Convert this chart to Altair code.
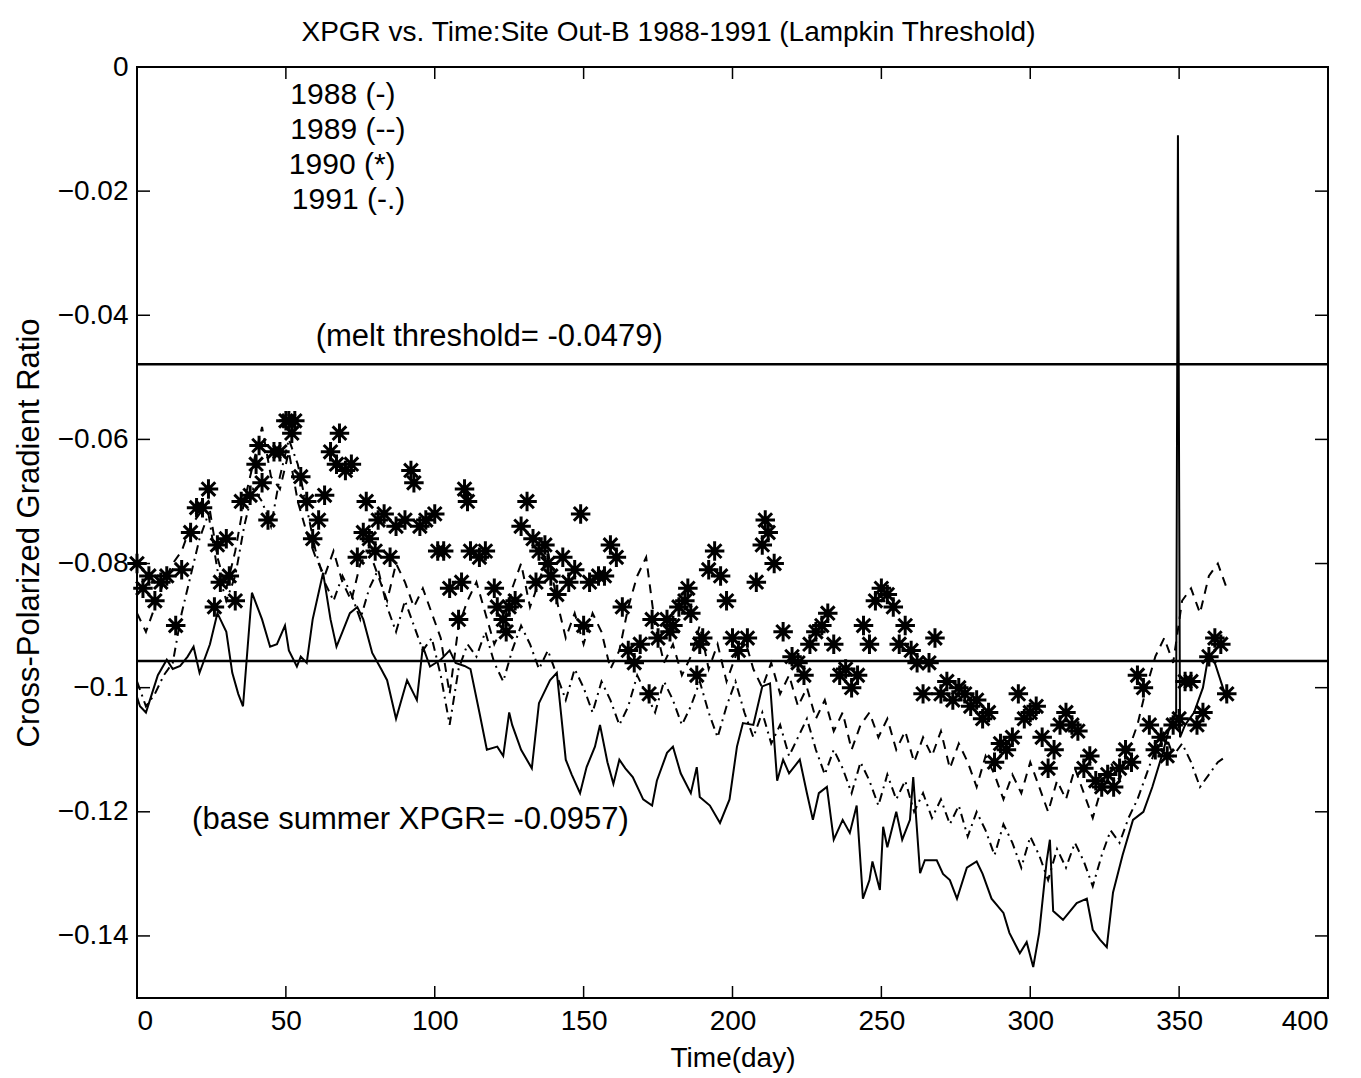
import altair as alt
import pandas as pd

# ---------------- data ----------------
D88 = [0, 1, 3, 5, 7, 10, 12, 14.5, 17, 19, 21, 24.5, 27, 30, 32, 34, 35.6, 38.6, 42, 44.7,
       47, 49.7, 51, 53.7, 55, 57, 59, 62.5, 65, 67, 69, 71.5, 74, 76, 79, 82, 84, 87, 90.7, 94,
       96, 98.4, 102, 105, 107, 110, 112, 115, 117.5, 121, 123, 125, 126, 129, 132.6, 135, 138.7, 141, 144, 146,
       148.8, 151, 153.8, 155.5, 158, 160, 162, 164, 166.5, 170, 173, 174.6, 178, 180, 182.6, 186, 188, 189, 192.4, 195.8,
       199, 201.5, 203.5, 207, 210, 212.6, 215, 217, 219, 222.6, 225, 227, 229, 231.7, 234, 237, 239.4, 241.7, 243.8, 246,
       247, 249.5, 250.6, 252, 255, 257, 259.6, 260.7, 263, 264.6, 268.6, 270.7, 273, 275.4, 278.7, 282, 284, 287, 291, 293,
       296.5, 298.8, 301, 303, 305.5, 306.6, 307.7, 311, 313.4, 315.6, 319, 321, 323.4, 325.7, 327.8, 331, 334.5, 338, 341, 344.5,
       347, 349, 349.6, 350.3, 352, 355, 358, 360, 362, 364.7, 366]
V88 = [-0.1015, -0.103, -0.104, -0.101, -0.098, -0.0955, -0.097, -0.0965, -0.095, -0.0934, -0.0976, -0.093, -0.088, -0.091, -0.0976, -0.101, -0.103, -0.0847, -0.089, -0.0934,
       -0.093, -0.090, -0.094, -0.0966, -0.095, -0.096, -0.089, -0.0815, -0.089, -0.0934, -0.091, -0.088, -0.087, -0.089, -0.0944, -0.097, -0.0988, -0.105, -0.0988, -0.102,
       -0.0934, -0.0966, -0.0955, -0.094, -0.096, -0.0965, -0.097, -0.104, -0.110, -0.1095, -0.111, -0.104, -0.106, -0.110, -0.113, -0.1025, -0.0988, -0.0976, -0.1116, -0.114,
       -0.117, -0.1128, -0.1095, -0.106, -0.112, -0.1155, -0.1116, -0.113, -0.1144, -0.118, -0.119, -0.115, -0.1105, -0.1095, -0.1138, -0.117, -0.1128, -0.1176, -0.119, -0.1218,
       -0.118, -0.1095, -0.1057, -0.106, -0.0998, -0.0993, -0.115, -0.1116, -0.1138, -0.1116, -0.117, -0.1213, -0.117, -0.116, -0.1245, -0.1213, -0.1234, -0.119, -0.134, -0.131,
       -0.128, -0.1326, -0.1224, -0.1257, -0.120, -0.1245, -0.1213, -0.1144, -0.1299, -0.1278, -0.1278, -0.130, -0.131, -0.134, -0.129, -0.128, -0.130, -0.134, -0.1363, -0.1395,
       -0.1428, -0.141, -0.145, -0.1395, -0.128, -0.1245, -0.136, -0.1374, -0.136, -0.1347, -0.134, -0.139, -0.1406, -0.1418, -0.133, -0.127, -0.1213, -0.120, -0.116, -0.1105,
       -0.106, -0.104, -0.011, -0.108, -0.106, -0.104, -0.100, -0.0944, -0.096, -0.100, -0.102]

D89 = list(range(0, 367, 3))
V89 = [-0.088, -0.091, -0.087, -0.083, -0.080, -0.078, -0.074, -0.072, -0.070, -0.079, -0.084, -0.078, -0.070, -0.064, -0.058, -0.066, -0.068, -0.062, -0.070, -0.075,
       -0.079, -0.082, -0.078, -0.083, -0.086, -0.080, -0.078, -0.082, -0.086, -0.080, -0.083, -0.087, -0.084, -0.088, -0.092, -0.101, -0.090, -0.086, -0.083, -0.088,
       -0.093, -0.090, -0.084, -0.080, -0.087, -0.083, -0.078, -0.086, -0.092, -0.088, -0.093, -0.088, -0.091, -0.097, -0.094, -0.087, -0.082, -0.079, -0.090, -0.096,
       -0.093, -0.098, -0.095, -0.090, -0.097, -0.093, -0.099, -0.095, -0.092, -0.097, -0.100, -0.096, -0.101, -0.098, -0.103, -0.100, -0.105, -0.102, -0.107, -0.104,
       -0.110, -0.106, -0.104, -0.108, -0.105, -0.110, -0.107, -0.112, -0.108, -0.111, -0.107, -0.113, -0.109, -0.112, -0.116, -0.111, -0.114, -0.118, -0.114, -0.117,
       -0.112, -0.116, -0.120, -0.115, -0.118, -0.113, -0.117, -0.121, -0.116, -0.112, -0.115, -0.110, -0.106, -0.100, -0.095, -0.092, -0.096, -0.086, -0.084, -0.088,
       -0.082, -0.080, -0.084]

D91 = list(range(0, 367, 3))
V91 = [-0.099, -0.103, -0.101, -0.098, -0.096, -0.088, -0.082, -0.076, -0.072, -0.081, -0.086, -0.082, -0.074, -0.068, -0.070, -0.074, -0.066, -0.060, -0.064, -0.071,
       -0.078, -0.083, -0.086, -0.082, -0.085, -0.089, -0.084, -0.081, -0.087, -0.091, -0.086, -0.090, -0.094, -0.092, -0.098, -0.106, -0.097, -0.093, -0.095, -0.091,
       -0.096, -0.099, -0.094, -0.090, -0.093, -0.097, -0.094, -0.098, -0.102, -0.097, -0.100, -0.104, -0.099, -0.102, -0.106, -0.103, -0.098, -0.101, -0.104, -0.099,
       -0.102, -0.106, -0.103, -0.099, -0.104, -0.108, -0.103, -0.099, -0.104, -0.108, -0.104, -0.109, -0.106, -0.111, -0.108, -0.105, -0.110, -0.114, -0.110, -0.113,
       -0.117, -0.112, -0.115, -0.119, -0.114, -0.118, -0.115, -0.120, -0.117, -0.121, -0.118, -0.122, -0.119, -0.124, -0.120, -0.123, -0.127, -0.122, -0.125, -0.129,
       -0.124, -0.127, -0.131, -0.126, -0.129, -0.125, -0.128, -0.132, -0.127, -0.123, -0.125, -0.121, -0.118, -0.114, -0.110, -0.107, -0.111, -0.109, -0.112, -0.116,
       -0.114, -0.112, -0.111]

D90 = [0, 2, 4, 6, 8, 10, 13, 15, 18, 20, 22, 24, 26, 27, 28, 30, 31, 33, 35, 38,
       40, 41, 42, 44, 46, 48, 50, 51, 52, 53, 55, 57, 59, 61, 63, 65, 67, 68, 70, 72,
       74, 76, 77, 78, 80, 81, 83, 85, 87, 90, 92, 93, 95, 97, 100, 101, 103, 105, 108, 109,
       110, 111, 112, 115, 117, 120, 121, 123, 124, 125, 127, 129, 131, 133, 134, 135, 137, 138, 139, 141,
       143, 145, 147, 149, 150, 152, 155, 157, 159, 161, 163, 165, 167, 169, 172, 173, 175, 178, 179, 180,
       182, 184, 185, 186, 188, 189, 190, 192, 194, 196, 198, 200, 202, 205, 208, 210, 211, 212, 214, 217,
       220, 222, 224, 226, 228, 230, 232, 234, 236, 238, 240, 242, 244, 246, 248, 250, 252, 254, 256, 258,
       260, 262, 264, 266, 268, 270, 272, 274, 276, 278, 280, 282, 284, 286, 288, 290, 292, 294, 296, 298,
       300, 302, 304, 306, 308, 310, 312, 314, 316, 318, 320, 322, 324, 326, 328, 330, 332, 334, 336, 338,
       340, 342, 344, 346, 348, 350, 352, 354, 356, 358, 360, 362, 364, 366]
V90 = [-0.080, -0.084, -0.082, -0.086, -0.083, -0.082, -0.090, -0.081, -0.075, -0.071, -0.071, -0.068, -0.087, -0.077, -0.083, -0.076, -0.082, -0.086, -0.070, -0.069,
       -0.064, -0.061, -0.067, -0.073, -0.062, -0.062, -0.057, -0.057, -0.059, -0.057, -0.066, -0.070, -0.076, -0.073, -0.069, -0.062, -0.064, -0.059, -0.065, -0.064,
       -0.079, -0.075, -0.070, -0.076, -0.078, -0.073, -0.072, -0.079, -0.074, -0.073, -0.065, -0.067, -0.074, -0.073, -0.072, -0.078, -0.078, -0.084, -0.089, -0.083,
       -0.068, -0.070, -0.078, -0.079, -0.078, -0.084, -0.087, -0.089, -0.091, -0.087, -0.086, -0.074, -0.070, -0.076, -0.083, -0.078, -0.077, -0.080, -0.082, -0.085,
       -0.079, -0.083, -0.081, -0.072, -0.090, -0.083, -0.082, -0.082, -0.077, -0.079, -0.087, -0.094, -0.096, -0.093, -0.101, -0.089, -0.092, -0.089, -0.091, -0.090,
       -0.087, -0.086, -0.084, -0.088, -0.098, -0.093, -0.092, -0.081, -0.078, -0.082, -0.086, -0.092, -0.094, -0.092, -0.083, -0.077, -0.073, -0.075, -0.080, -0.091,
       -0.095, -0.096, -0.098, -0.093, -0.091, -0.090, -0.088, -0.093, -0.098, -0.097, -0.100, -0.098, -0.090, -0.093, -0.086, -0.084, -0.085, -0.087, -0.093, -0.090,
       -0.094, -0.096, -0.101, -0.096, -0.092, -0.101, -0.099, -0.102, -0.100, -0.101, -0.103, -0.102, -0.105, -0.104, -0.112, -0.109, -0.110, -0.108, -0.101, -0.105,
       -0.104, -0.103, -0.108, -0.113, -0.110, -0.106, -0.104, -0.106, -0.107, -0.113, -0.111, -0.115, -0.116, -0.114, -0.116, -0.113, -0.110, -0.112, -0.098, -0.100,
       -0.106, -0.110, -0.108, -0.111, -0.106, -0.105, -0.099, -0.099, -0.106, -0.104, -0.095, -0.092, -0.093, -0.101]

MELT = -0.0479
BASE = -0.0957

XTICKS = [0, 50, 100, 150, 200, 250, 300, 350, 400]
YTICKS = [0, -0.02, -0.04, -0.06, -0.08, -0.1, -0.12, -0.14]

LEGEND_TEXT = ["1988 (-)", "1989 (--)", "1990 (*)", "1991 (-.)"]
LEGEND_DAY = [51.5, 51.5, 51, 52]
LEGEND_VAL = [-0.0045, -0.0102, -0.0158, -0.0214]

NOTE_TEXT = ["(melt threshold= -0.0479)", "(base summer XPGR= -0.0957)"]
NOTE_DAY = [60.0, 18.5]
NOTE_VAL = [-0.0435, -0.1213]

# ---------------- chart ----------------
W, H = 1191, 931
FONT = "Liberation Sans"

xs = alt.Scale(domain=[0, 400], nice=False, zero=False)
ys = alt.Scale(domain=[-0.15, 0], nice=False, zero=False)
xaxis = alt.Axis(values=XTICKS, title="Time(day)", labelPadding=9, titlePadding=9)
yaxis = alt.Axis(values=YTICKS, title="Cross-Polarized Gradient Ratio", format="~g",
                 labelPadding=9, titlePadding=12, titleFontSize=31)
X = alt.X("day:Q", scale=xs, axis=xaxis)
Y = alt.Y("value:Q", scale=ys, axis=yaxis)

df88 = pd.DataFrame({"day": D88, "value": V88})
df89 = pd.DataFrame({"day": D89, "value": V89})
df91 = pd.DataFrame({"day": D91, "value": V91})
df90 = pd.DataFrame({"day": D90, "value": V90})

line88 = alt.Chart(df88).mark_line(color="black", strokeWidth=2).encode(x=X, y=Y)
line89 = alt.Chart(df89).mark_line(color="black", strokeWidth=2, strokeDash=[9, 7]).encode(x=X, y=Y)
line91 = alt.Chart(df91).mark_line(color="black", strokeWidth=2, strokeDash=[9, 5, 2, 5]).encode(x=X, y=Y)

ASTER = "M-1,0L1,0M0,-1L0,1M-0.7,-0.7L0.7,0.7M-0.7,0.7L0.7,-0.7"
pts90 = alt.Chart(df90).mark_point(shape=ASTER, filled=False, color="black", strokeWidth=3,
                                   size=380, opacity=1).encode(x=X, y=Y)

hlines = alt.Chart(pd.DataFrame({"value": [MELT, BASE]})).mark_rule(
    color="black", strokeWidth=2.5).encode(y=Y)

tx = pd.DataFrame({"day": XTICKS})
ty = pd.DataFrame({"value": YTICKS})
tick_b = alt.Chart(tx).mark_rule(color="black", strokeWidth=1.5).encode(x=X, y=alt.value(H), y2=alt.value(H - 12))
tick_t = alt.Chart(tx).mark_rule(color="black", strokeWidth=1.5).encode(x=X, y=alt.value(0), y2=alt.value(12))
tick_l = alt.Chart(ty).mark_rule(color="black", strokeWidth=1.5).encode(y=Y, x=alt.value(0), x2=alt.value(13))
tick_r = alt.Chart(ty).mark_rule(color="black", strokeWidth=1.5).encode(y=Y, x=alt.value(W), x2=alt.value(W - 13))

leg = alt.Chart(pd.DataFrame({"day": LEGEND_DAY, "value": LEGEND_VAL, "label": LEGEND_TEXT})).mark_text(
    align="left", baseline="middle", font=FONT, fontSize=30, color="black").encode(x=X, y=Y, text="label:N")
notes = alt.Chart(pd.DataFrame({"day": NOTE_DAY, "value": NOTE_VAL, "label": NOTE_TEXT})).mark_text(
    align="left", baseline="middle", font=FONT, fontSize=31, color="black").encode(x=X, y=Y, text="label:N")

chart = alt.layer(line88, line89, line91, pts90, hlines, tick_b, tick_t, tick_l, tick_r, leg, notes).properties(
    width=W, height=H,
    title=alt.TitleParams("XPGR vs. Time:Site Out-B 1988-1991 (Lampkin Threshold)", font=FONT,
                          fontSize=28, fontWeight="normal", color="black", offset=6, dx=-64),
    autosize=alt.AutoSizeParams(type="none"),
    padding={"left": 137, "top": 67, "right": 33, "bottom": 80},
    background="white",
).configure_view(stroke="black", strokeWidth=2).configure_axis(
    labelFont=FONT, titleFont=FONT, labelFontSize=28, titleFontSize=28, titleFontWeight="normal",
    labelColor="black", titleColor="black", ticks=False, domain=False, grid=False
)

chart.save("out.html", embed_options={"renderer": "svg", "actions": False})
